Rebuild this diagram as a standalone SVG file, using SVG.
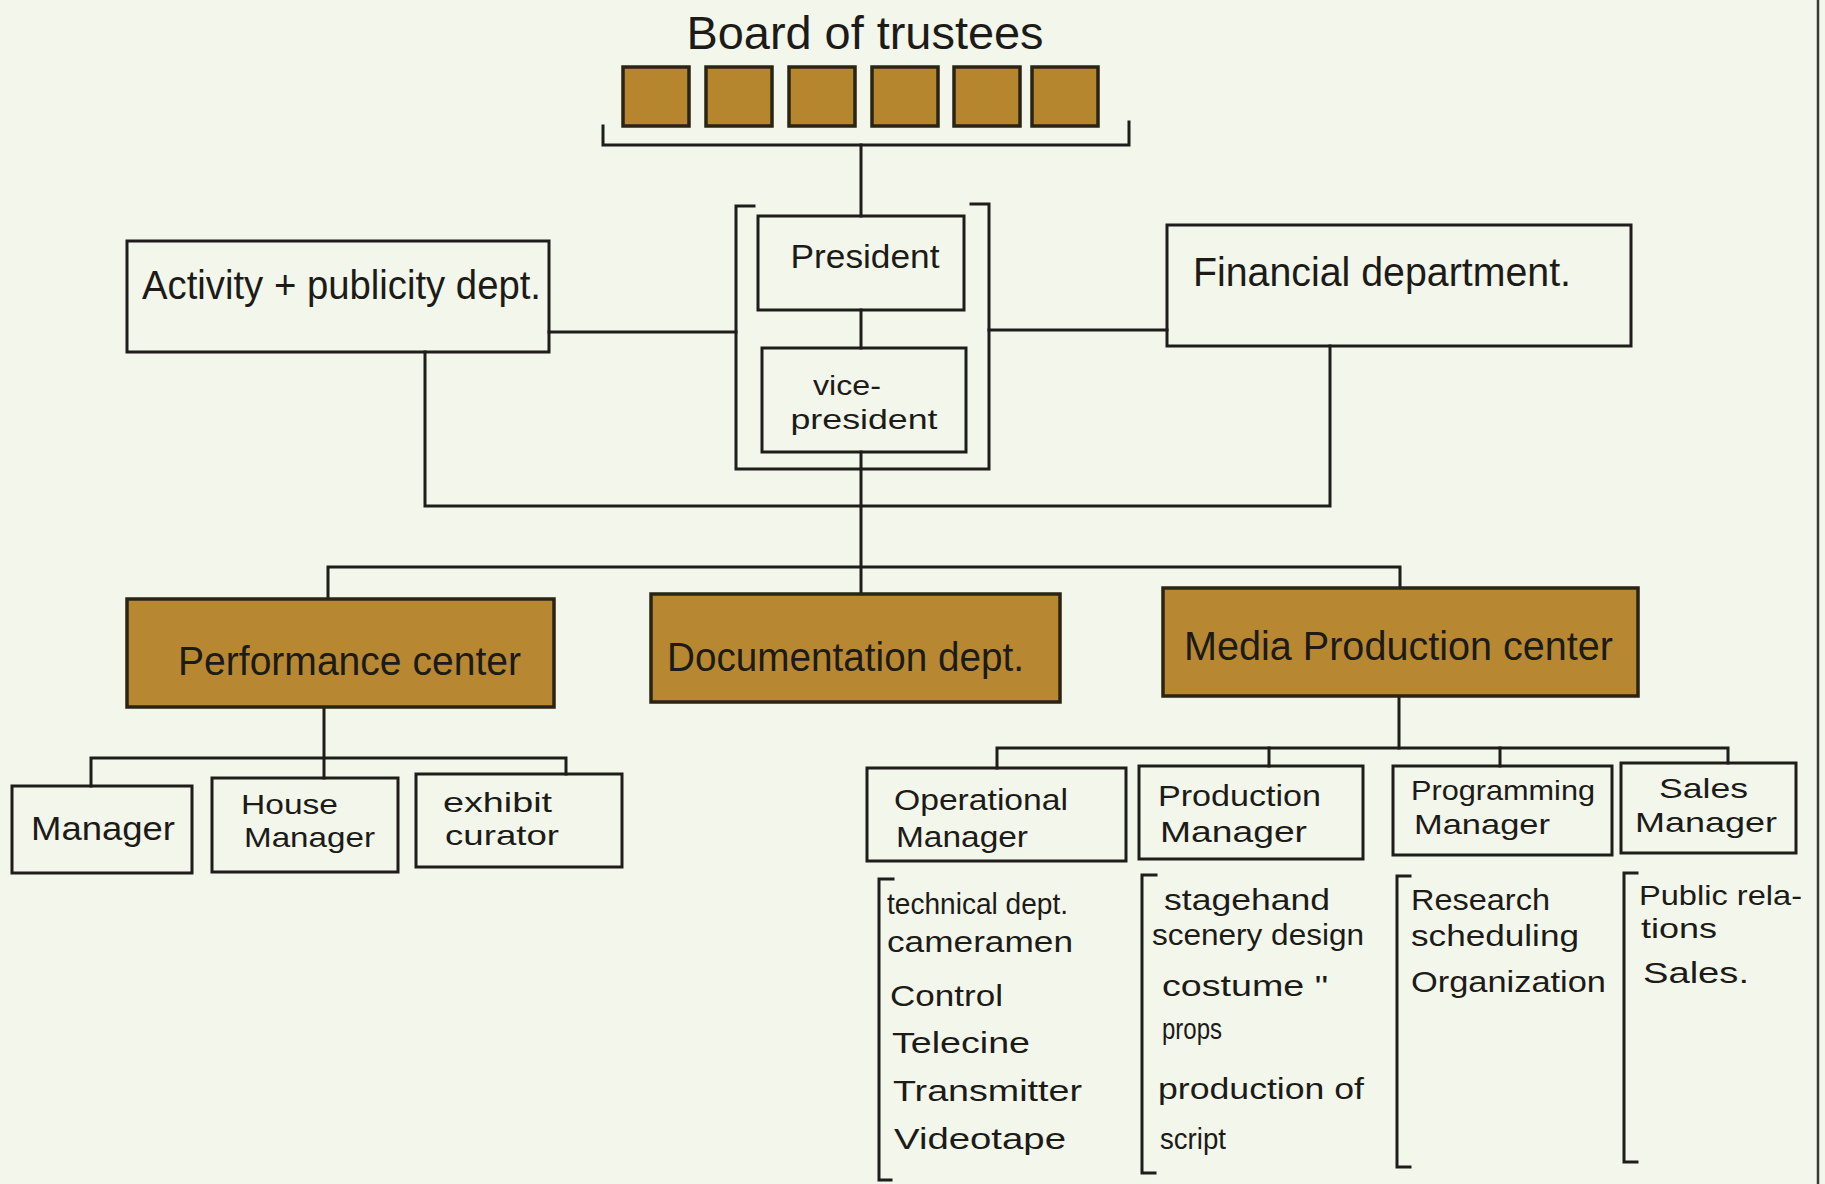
<svg xmlns="http://www.w3.org/2000/svg" width="1825" height="1184" viewBox="0 0 1825 1184">
<defs>
<style>
.ln{fill:none;stroke:#1e1d1a;stroke-width:3;stroke-linecap:square;stroke-linejoin:miter}
.box{fill:none;stroke:#1e1d1a;stroke-width:3}
.gold{fill:#b78831;stroke:#2a2414;stroke-width:3.5}
.sq{fill:#b5862e;stroke:#2a2414;stroke-width:3.5}
text{font-family:"Liberation Sans","DejaVu Sans",sans-serif;fill:#1c1b18}
.t1{font-size:46px}
.t2{font-size:40px}
.t3{font-size:34px}
.t4{font-size:30px}
.t5{font-size:28px}
</style>
</defs>
<rect x="0" y="0" width="1825" height="1184" fill="#f3f6ea"/>
<line x1="1818" y1="0" x2="1818" y2="1184" stroke="#3a3a36" stroke-width="2.5"/>

<g id="connectors">
<path class="ln" d="M861,145 V216"/>
<path class="ln" d="M861,310 V348"/>
<path class="ln" d="M861,452 V594"/>
<path class="ln" d="M549,332 H736"/>
<path class="ln" d="M989,330 H1167"/>
<path class="ln" d="M425,352 V506 H1330 V346"/>
<path class="ln" d="M328,599 V567 H1400 V588"/>
<path class="ln" d="M324,707 V778"/>
<path class="ln" d="M91,786 V758 H566 V774"/>
<path class="ln" d="M1399,696 V748"/>
<path class="ln" d="M997,768 V748 H1728 V763"/>
<path class="ln" d="M1269,748 V766"/>
<path class="ln" d="M1500,748 V766"/>
</g>

<g id="board">
<text class="t1" x="865" y="49" text-anchor="middle" textLength="357" lengthAdjust="spacingAndGlyphs">Board of trustees</text>
<rect class="sq" x="623" y="67" width="66" height="59"/>
<rect class="sq" x="706" y="67" width="66" height="59"/>
<rect class="sq" x="789" y="67" width="66" height="59"/>
<rect class="sq" x="872" y="67" width="66" height="59"/>
<rect class="sq" x="954" y="67" width="66" height="59"/>
<rect class="sq" x="1032" y="67" width="66" height="59"/>
<path class="ln" d="M603,126 V145 H1129 V122"/>
</g>

<g id="executive">
<path class="ln" d="M754,206 H736 V469 H989 V204 H971"/>
</g>

<g id="president">
<rect class="box" x="758" y="216" width="206" height="94"/>
<text class="t3" x="865" y="268" text-anchor="middle" textLength="149" lengthAdjust="spacingAndGlyphs">President</text>
</g>

<g id="vice-president">
<rect class="box" x="762" y="348" width="204" height="104"/>
<text class="t5" x="847" y="395" text-anchor="middle" textLength="68" lengthAdjust="spacingAndGlyphs">vice-</text>
<text class="t5" x="864" y="429" text-anchor="middle" textLength="147" lengthAdjust="spacingAndGlyphs">president</text>
</g>

<g id="activity">
<rect class="box" x="127" y="241" width="422" height="111"/>
<text class="t2" x="142" y="299" textLength="399" lengthAdjust="spacingAndGlyphs">Activity + publicity dept.</text>
</g>

<g id="financial">
<rect class="box" x="1167" y="225" width="464" height="121"/>
<text class="t2" x="1193" y="286" textLength="378" lengthAdjust="spacingAndGlyphs">Financial department.</text>
</g>

<g id="performance">
<rect class="gold" x="127" y="599" width="427" height="108"/>
<text class="t2" x="178" y="675" textLength="343" lengthAdjust="spacingAndGlyphs">Performance center</text>
</g>

<g id="documentation">
<rect class="gold" x="651" y="594" width="409" height="108"/>
<text class="t2" x="667" y="671" textLength="357" lengthAdjust="spacingAndGlyphs">Documentation dept.</text>
</g>

<g id="media">
<rect class="gold" x="1163" y="588" width="475" height="108"/>
<text class="t2" x="1184" y="660" textLength="429" lengthAdjust="spacingAndGlyphs">Media Production center</text>
</g>

<g id="manager">
<rect class="box" x="12" y="786" width="180" height="87"/>
<text class="t3" x="31" y="840" textLength="144" lengthAdjust="spacingAndGlyphs">Manager</text>
</g>

<g id="house-manager">
<rect class="box" x="212" y="778" width="186" height="94"/>
<text class="t5" x="241" y="814" textLength="97" lengthAdjust="spacingAndGlyphs">House</text>
<text class="t5" x="244" y="847" textLength="131" lengthAdjust="spacingAndGlyphs">Manager</text>
</g>

<g id="exhibit-curator">
<rect class="box" x="416" y="774" width="206" height="93"/>
<text class="t5" x="443" y="812" textLength="109" lengthAdjust="spacingAndGlyphs">exhibit</text>
<text class="t5" x="445" y="845" textLength="114" lengthAdjust="spacingAndGlyphs">curator</text>
</g>

<g id="operational-manager">
<rect class="box" x="867" y="768" width="259" height="93"/>
<text class="t4" x="894" y="810" textLength="174" lengthAdjust="spacingAndGlyphs">Operational</text>
<text class="t4" x="896" y="847" textLength="132" lengthAdjust="spacingAndGlyphs">Manager</text>
</g>

<g id="production-manager">
<rect class="box" x="1139" y="766" width="224" height="93"/>
<text class="t4" x="1158" y="806" textLength="163" lengthAdjust="spacingAndGlyphs">Production</text>
<text class="t4" x="1160" y="842" textLength="147" lengthAdjust="spacingAndGlyphs">Manager</text>
</g>

<g id="programming-manager">
<rect class="box" x="1393" y="766" width="219" height="89"/>
<text class="t5" x="1411" y="800" textLength="184" lengthAdjust="spacingAndGlyphs">Programming</text>
<text class="t5" x="1414" y="834" textLength="136" lengthAdjust="spacingAndGlyphs">Manager</text>
</g>

<g id="sales-manager">
<rect class="box" x="1621" y="763" width="175" height="90"/>
<text class="t5" x="1659" y="798" textLength="89" lengthAdjust="spacingAndGlyphs">Sales</text>
<text class="t5" x="1635" y="832" textLength="142" lengthAdjust="spacingAndGlyphs">Manager</text>
</g>

<g id="operational-list">
<path class="ln" d="M893,879 H879 V1180 H891"/>
<text class="t4" x="887" y="914" textLength="181" lengthAdjust="spacingAndGlyphs">technical dept.</text>
<text class="t4" x="887" y="952" textLength="186" lengthAdjust="spacingAndGlyphs">cameramen</text>
<text class="t4" x="890" y="1006" textLength="113" lengthAdjust="spacingAndGlyphs">Control</text>
<text class="t4" x="892" y="1053" textLength="138" lengthAdjust="spacingAndGlyphs">Telecine</text>
<text class="t4" x="893" y="1101" textLength="189" lengthAdjust="spacingAndGlyphs">Transmitter</text>
<text class="t4" x="894" y="1149" textLength="172" lengthAdjust="spacingAndGlyphs">Videotape</text>
</g>

<g id="production-list">
<path class="ln" d="M1156,875 H1142 V1173 H1155"/>
<text class="t4" x="1164" y="910" textLength="166" lengthAdjust="spacingAndGlyphs">stagehand</text>
<text class="t4" x="1152" y="945" textLength="212" lengthAdjust="spacingAndGlyphs">scenery design</text>
<text class="t4" x="1162" y="996" textLength="166" lengthAdjust="spacingAndGlyphs">costume  "</text>
<text class="t4" x="1162" y="1039" textLength="60" lengthAdjust="spacingAndGlyphs">props</text>
<text class="t4" x="1158" y="1099" textLength="206" lengthAdjust="spacingAndGlyphs">production of</text>
<text class="t4" x="1160" y="1149" textLength="66" lengthAdjust="spacingAndGlyphs">script</text>
</g>

<g id="programming-list">
<path class="ln" d="M1410,876 H1397 V1167 H1410"/>
<text class="t4" x="1411" y="910" textLength="139" lengthAdjust="spacingAndGlyphs">Research</text>
<text class="t4" x="1411" y="946" textLength="168" lengthAdjust="spacingAndGlyphs">scheduling</text>
<text class="t4" x="1411" y="992" textLength="195" lengthAdjust="spacingAndGlyphs">Organization</text>
</g>

<g id="sales-list">
<path class="ln" d="M1637,873 H1624 V1162 H1637"/>
<text class="t5" x="1639" y="905" textLength="163" lengthAdjust="spacingAndGlyphs">Public rela-</text>
<text class="t5" x="1641" y="938" textLength="76" lengthAdjust="spacingAndGlyphs">tions</text>
<text class="t4" x="1643" y="983" textLength="106" lengthAdjust="spacingAndGlyphs">Sales.</text>
</g>
</svg>
